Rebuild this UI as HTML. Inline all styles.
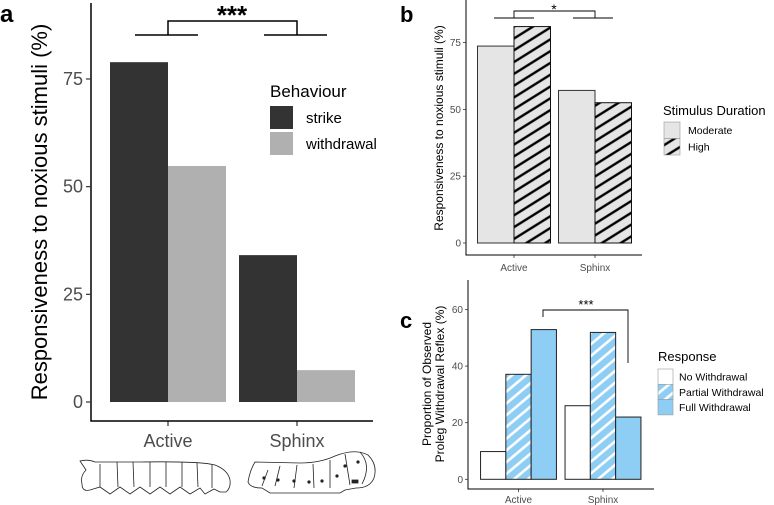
<!DOCTYPE html>
<html><head><meta charset="utf-8">
<style>
html,body{margin:0;padding:0;background:#fff;}
svg{display:block;font-family:"Liberation Sans",Arial,sans-serif;}
</style></head>
<body>
<svg id="fig" width="774" height="505" viewBox="0 0 774 505" xmlns="http://www.w3.org/2000/svg">
<defs>
<pattern id="hatchB" patternUnits="userSpaceOnUse" width="10" height="10" patternTransform="rotate(-32)">
<rect width="10" height="10" fill="#e5e5e5"/><line x1="0" y1="5" x2="10" y2="5" stroke="#000" stroke-width="2.4"/>
</pattern>
<pattern id="hatchC" patternUnits="userSpaceOnUse" width="9" height="9" patternTransform="rotate(-40)">
<rect width="9" height="9" fill="#8ecdf4"/><line x1="0" y1="4.5" x2="9" y2="4.5" stroke="#fff" stroke-width="2.6"/>
</pattern>
</defs>
<g id="pa"></g>
<g id="pb"></g>
<g id="pc"></g>
<g fill="none" stroke="#222" stroke-width="0.8">
<path d="M80,461 Q88,459 95,462 L140,462 Q200,461 215,465 Q228,470 230,480 Q231,488 226,492 L220,492 L214,489 L205,494 L200,488 L190,494 L180,487 L170,494 L160,487 L150,494 L140,487 L130,494 L120,487 L110,494 L100,487 L90,490 Q82,492 82,484 Q80,476 86,470 Z"/>
<path d="M100,464 L100,487 M117,462 L118,487 M133,462 L134,487 M150,462 L150,487 M166,462 L166,487 M182,462 L182,487 M197,463 L198,487 M212,465 L212,488"/>
</g>
<g fill="none" stroke="#222" stroke-width="0.8">
<path d="M255,462 L300,463 Q320,463 335,456 Q355,448 368,455 Q378,465 374,478 Q370,488 356,488 L345,490 L340,493 L270,493 L262,488 Q250,488 248,482 Q250,470 255,462 Z"/>
<path d="M268,470 L262,486 M280,466 L275,486 M297,465 L294,488 M313,464 L314,488 M330,460 L330,488 M345,454 L350,485 M360,452 Q372,465 362,484"/>
<circle cx="264" cy="478" r="1.2" fill="#222"/><circle cx="278" cy="480" r="1.2" fill="#222"/><circle cx="294" cy="481" r="1.2" fill="#222"/><circle cx="309" cy="482" r="1.2" fill="#222"/><circle cx="322" cy="481" r="1.2" fill="#222"/><circle cx="337" cy="476" r="1.2" fill="#222"/><circle cx="345" cy="466" r="1.2" fill="#222"/><circle cx="358" cy="462" r="1.2" fill="#222"/>
<rect x="352" y="480" width="6" height="3" fill="#222"/>
</g>
</svg>
<script>
// Panel a data
var aGroups = ["Active", "Sphinx"];
var aStrike = [78.9, 34.1];
var aWithdrawal = [54.8, 7.4];
var aTicks = [0, 25, 50, 75];
// Panel b data
var bGroups = ["Active", "Sphinx"];
var bModerate = [73.7, 57.1];
var bHigh = [81.0, 52.5];
var bTicks = [0, 25, 50, 75];
// Panel c data
var cGroups = ["Active", "Sphinx"];
var cNone = [9.8, 26.0];
var cPartial = [37.1, 51.9];
var cFull = [52.9, 22.0];
var cTicks = [0, 20, 40, 60];

var NS = "http://www.w3.org/2000/svg";
function mk(parent, tag, attrs, text) {
  var e = document.createElementNS(NS, tag);
  for (var k in attrs) e.setAttribute(k, attrs[k]);
  if (text !== undefined) e.textContent = text;
  parent.appendChild(e);
  return e;
}

// ---------- Panel a ----------
(function () {
  var g = document.getElementById('pa');
  var y0 = 402, s = 4.307;
  function ya(v) { return y0 - v * s; }
  var centers = [168, 297], bw = 58;
  var t = mk(g, 'text', {x: 0, y: 22, 'font-size': 24, 'font-weight': 'bold', fill: '#000'}, 'a');
   
  for (var i = 0; i < aGroups.length; i++) {
    var r1 = mk(g, 'rect', {x: centers[i] - bw, y: ya(aStrike[i]), width: bw, height: aStrike[i] * s, fill: '#333333'});
    
    
    var r2 = mk(g, 'rect', {x: centers[i], y: ya(aWithdrawal[i]), width: bw, height: aWithdrawal[i] * s, fill: '#b0b0b0'});
    
    
    var xl = mk(g, 'text', {x: centers[i], y: 447, 'font-size': 18, fill: '#4d4d4d', 'text-anchor': 'middle'}, aGroups[i]);
    
    
    mk(g, 'line', {x1: centers[i], x2: centers[i], y1: 421, y2: 426, stroke: '#333', 'stroke-width': 1.2});
  }
  var ax = mk(g, 'path', {d: 'M91,3 L91,421 L373,421', fill: 'none', stroke: '#000', 'stroke-width': 1.5});
   
  for (var j = 0; j < aTicks.length; j++) {
    var yy = ya(aTicks[j]);
    mk(g, 'line', {x1: 86, x2: 91, y1: yy, y2: yy, stroke: '#333', 'stroke-width': 1.2});
    var tl = mk(g, 'text', {x: 83, y: yy + 6, 'font-size': 18, fill: '#4d4d4d', 'text-anchor': 'end'}, aTicks[j]);
    
    
  }
  var yt = mk(g, 'text', {x: 0, y: 0, 'font-size': 22, fill: '#000', 'text-anchor': 'middle', transform: 'translate(47,212) rotate(-90)'}, 'Responsiveness to noxious stimuli (%)');
   
  var br = mk(g, 'path', {d: 'M135,35 L198,35 M264,35 L327,35 M168,35 L168,21 L297,21 L297,35', fill: 'none', stroke: '#000', 'stroke-width': 1.5});
   
  var st = mk(g, 'text', {x: 232, y: 24, 'font-size': 26, 'font-weight': 'bold', fill: '#000', 'text-anchor': 'middle'}, '***');
   
  var lt = mk(g, 'text', {x: 270, y: 97, 'font-size': 17, fill: '#000'}, 'Behaviour');
   
  var items = [['strike', '#333333'], ['withdrawal', '#b0b0b0']];
  for (var k = 0; k < 2; k++) {
    var ky = 106 + k * 26;
    var kr = mk(g, 'rect', {x: 270, y: ky, width: 23, height: 23, fill: items[k][1]});
     
    var kl = mk(g, 'text', {x: 306, y: ky + 17, 'font-size': 15, fill: '#000'}, items[k][0]);
     
  }
})();

// ---------- Panel b ----------
(function () {
  var g = document.getElementById('pb');
  var y0 = 243, s = 2.672;
  function yb(v) { return y0 - v * s; }
  var centers = [514, 595], bw = 36.5;
  var t = mk(g, 'text', {x: 400, y: 22, 'font-size': 22, 'font-weight': 'bold', fill: '#000'}, 'b');
   
  for (var i = 0; i < bGroups.length; i++) {
    var r1 = mk(g, 'rect', {x: centers[i] - bw, y: yb(bModerate[i]), width: bw, height: bModerate[i] * s, fill: '#e5e5e5', stroke: '#333', 'stroke-width': 1});
    
    
    var r2 = mk(g, 'rect', {x: centers[i], y: yb(bHigh[i]), width: bw, height: bHigh[i] * s, fill: 'url(#hatchB)', stroke: '#111', 'stroke-width': 1});
    
    
    var xl = mk(g, 'text', {x: centers[i], y: 271, 'font-size': 10, fill: '#4d4d4d', 'text-anchor': 'middle'}, bGroups[i]);
     
    mk(g, 'line', {x1: centers[i], x2: centers[i], y1: 255, y2: 258, stroke: '#333', 'stroke-width': 0.8});
  }
  var ax = mk(g, 'path', {d: 'M466,0 L466,255 L642,255', fill: 'none', stroke: '#000', 'stroke-width': 1});
   
  for (var j = 0; j < bTicks.length; j++) {
    var yy = yb(bTicks[j]);
    mk(g, 'line', {x1: 463, x2: 466, y1: yy, y2: yy, stroke: '#333', 'stroke-width': 0.8});
    var tl = mk(g, 'text', {x: 461, y: yy + 3.5, 'font-size': 10, fill: '#4d4d4d', 'text-anchor': 'end'}, bTicks[j]);
     
  }
  var yt = mk(g, 'text', {x: 0, y: 0, 'font-size': 12, fill: '#000', 'text-anchor': 'middle', transform: 'translate(443,128) rotate(-90)'}, 'Responsiveness to noxious stimuli (%)');
   
  var br = mk(g, 'path', {d: 'M494,18 L534,18 M573,18 L613,18 M514,18 L514,11 L595,11 L595,18', fill: 'none', stroke: '#000', 'stroke-width': 0.9});
   
  var st = mk(g, 'text', {x: 554, y: 14, 'font-size': 14, fill: '#000', 'text-anchor': 'middle'}, '*');
   
  var lt = mk(g, 'text', {x: 663, y: 115, 'font-size': 13, fill: '#000'}, 'Stimulus Duration');
   
  var items = [['Moderate', '#e5e5e5'], ['High', 'url(#hatchB)']];
  for (var k = 0; k < 2; k++) {
    var ky = 122 + k * 16.5;
    var kr = mk(g, 'rect', {x: 664, y: ky, width: 16, height: 16.5, fill: items[k][1], stroke: '#999', 'stroke-width': 0.6});
     
    var kl = mk(g, 'text', {x: 688, y: ky + 12, 'font-size': 10.5, fill: '#000'}, items[k][0]);
     
  }
})();

// ---------- Panel c ----------
(function () {
  var g = document.getElementById('pc');
  var y0 = 479.3, s = 2.83;
  function yc(v) { return y0 - v * s; }
  var centers = [518.5, 603], bw = 25.3;
  var t = mk(g, 'text', {x: 400, y: 328, 'font-size': 22, 'font-weight': 'bold', fill: '#000'}, 'c');
   
  for (var i = 0; i < cGroups.length; i++) {
    var c = centers[i];
    var r1 = mk(g, 'rect', {x: c - 1.5 * bw, y: yc(cNone[i]), width: bw, height: cNone[i] * s, fill: '#fff', stroke: '#222', 'stroke-width': 1});
    
    
    var r2 = mk(g, 'rect', {x: c - 0.5 * bw, y: yc(cPartial[i]), width: bw, height: cPartial[i] * s, fill: 'url(#hatchC)', stroke: '#222', 'stroke-width': 1});
    
    
    var r3 = mk(g, 'rect', {x: c + 0.5 * bw, y: yc(cFull[i]), width: bw, height: cFull[i] * s, fill: '#8ecdf4', stroke: '#222', 'stroke-width': 1});
    
    
    var xl = mk(g, 'text', {x: c, y: 503, 'font-size': 10, fill: '#4d4d4d', 'text-anchor': 'middle'}, cGroups[i]);
     
    mk(g, 'line', {x1: c, x2: c, y1: 489, y2: 492, stroke: '#333', 'stroke-width': 0.8});
  }
  var ax = mk(g, 'path', {d: 'M468,280 L468,489 L654,489', fill: 'none', stroke: '#000', 'stroke-width': 1});
   
  for (var j = 0; j < cTicks.length; j++) {
    var yy = yc(cTicks[j]);
    mk(g, 'line', {x1: 465, x2: 468, y1: yy, y2: yy, stroke: '#333', 'stroke-width': 0.8});
    var tl = mk(g, 'text', {x: 463, y: yy + 3.5, 'font-size': 10, fill: '#4d4d4d', 'text-anchor': 'end'}, cTicks[j]);
     
  }
  var yt1 = mk(g, 'text', {x: 0, y: 0, 'font-size': 12, fill: '#000', 'text-anchor': 'middle', transform: 'translate(431,384) rotate(-90)'}, 'Proportion of Observed');
   
  var yt2 = mk(g, 'text', {x: 0, y: 0, 'font-size': 12, fill: '#000', 'text-anchor': 'middle', transform: 'translate(444,384) rotate(-90)'}, 'Proleg Withdrawal Reflex (%)');
   
  var br = mk(g, 'path', {d: 'M543,317 L543,310 L628,310 L628,363', fill: 'none', stroke: '#000', 'stroke-width': 0.9});
   
  var st = mk(g, 'text', {x: 586, y: 309, 'font-size': 13, fill: '#000', 'text-anchor': 'middle'}, '***');
   
  var lt = mk(g, 'text', {x: 658, y: 361, 'font-size': 13, fill: '#000'}, 'Response');
   
  var items = [['No Withdrawal', '#fff'], ['Partial Withdrawal', 'url(#hatchC)'], ['Full Withdrawal', '#8ecdf4']];
  for (var k = 0; k < 3; k++) {
    var ky = 369 + k * 15.3;
    var kr = mk(g, 'rect', {x: 658, y: ky, width: 15, height: 15.3, fill: items[k][1], stroke: '#999', 'stroke-width': 0.6});
     
    var kl = mk(g, 'text', {x: 679, y: ky + 11.5, 'font-size': 10.5, fill: '#000'}, items[k][0]);
     
  }
})();
</script>
</body></html>
